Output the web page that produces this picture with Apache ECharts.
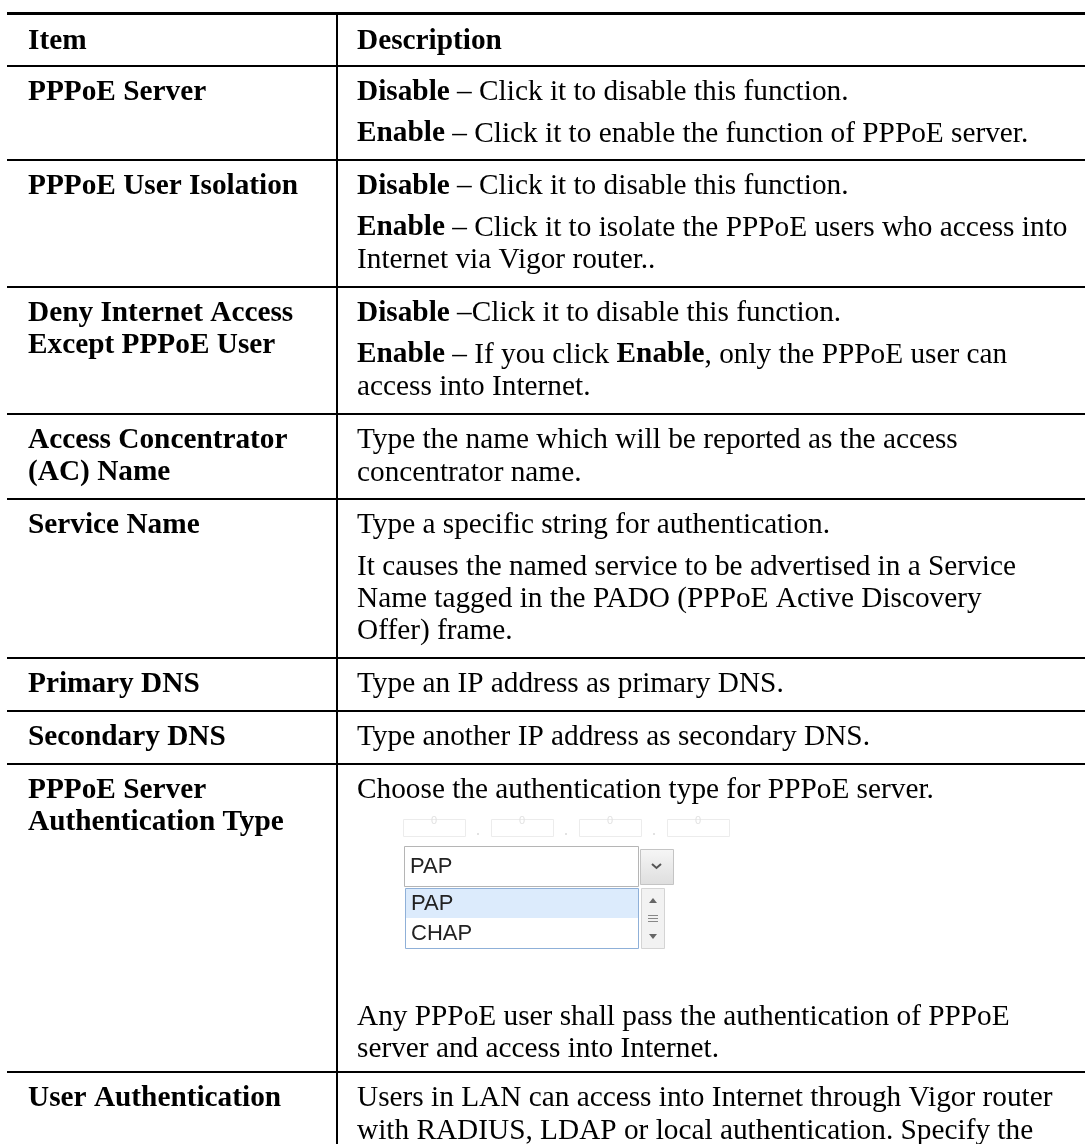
<!DOCTYPE html>
<html>
<head>
<meta charset="utf-8">
<script src="https://cdn.jsdelivr.net/npm/echarts@6/dist/echarts.min.js"></script>
<style>
html,body{margin:0;padding:0;background:#fff;}
#c{width:1085px;height:1144px;}
</style>
</head>
<body>
<div id="c"></div>
<script>
// ---------- DATA ----------
const headerLabels = ['Item', 'Description'];
const itemLabels = [
  ['PPPoE Server'],
  ['PPPoE User Isolation'],
  ['Deny Internet Access', 'Except PPPoE User'],
  ['Access Concentrator', '(AC) Name'],
  ['Service Name'],
  ['Primary DNS'],
  ['Secondary DNS'],
  ['PPPoE Server', 'Authentication Type'],
  ['User Authentication']
];
// paragraphs per row; each paragraph is a list of wrapped lines ({b|..} = bold)
const descriptions = [
  [['{b|Disable} – Click it to disable this function.'],
   ['{b|Enable} – Click it to enable the function of PPPoE server.']],
  [['{b|Disable} – Click it to disable this function.'],
   ['{b|Enable} – Click it to isolate the PPPoE users who access into', 'Internet via Vigor router..']],
  [['{b|Disable} –Click it to disable this function.'],
   ['{b|Enable} – If you click {b|Enable}, only the PPPoE user can', 'access into Internet.']],
  [['Type the name which will be reported as the access', 'concentrator name.']],
  [['Type a specific string for authentication.'],
   ['It causes the named service to be advertised in a Service', 'Name tagged in the PADO (PPPoE Active Discovery', 'Offer) frame.']],
  [['Type an IP address as primary DNS.']],
  [['Type another IP address as secondary DNS.']],
  [['Choose the authentication type for PPPoE server.'],
   'WIDGET',
   ['Any PPPoE user shall pass the authentication of PPPoE', 'server and access into Internet.']],
  [['Users in LAN can access into Internet through Vigor router', 'with RADIUS, LDAP or local authentication. Specify the']]
];
const selectValue = 'PAP';
const selectOptions = ['PAP', 'CHAP'];
const ghostBoxCount = 4;

// ---------- LAYOUT ----------
const L = {
  left: 7, right: 1085, colX: 337,
  topRule: 13.5, headerBottom: 66,
  leftTextX: 28, rightTextX: 357,
  pad: 10.3, lineH: 32.4, paraGap: 9,
  widgetH: 176, lastPad: 6,
  font: '29.3px "Liberation Serif", "Times New Roman", serif',
  fontB: 'bold 29.3px "Liberation Serif", "Times New Roman", serif',
  uiFont: '22px "Liberation Sans", Arial, sans-serif'
};

const g = [];
function hline(y, w) {
  g.push({type: 'line', shape: {x1: L.left, y1: y, x2: L.right, y2: y},
          style: {stroke: '#000', lineWidth: w}});
}
function text(x, y, s, bold) {
  g.push({type: 'text', x: x, y: y, style: {
    text: s, font: bold ? L.fontB : L.font, fill: '#000',
    verticalAlign: 'middle', align: 'left',
    rich: {b: {font: L.fontB, fill: '#000'}}
  }});
}
function rect(x, y, w, h, fill, stroke, lw) {
  g.push({type: 'rect', shape: {x: x, y: y, width: w, height: h},
          style: {fill: fill || 'none', stroke: stroke || 'none', lineWidth: lw || 1}});
}

function drawWidget(wTop) {
  wTop = Math.round(wTop);
  // faint input boxes of the screenshot above the select
  const bx = [403, 491, 579, 667];
  for (let i = 0; i < ghostBoxCount; i++) {
    rect(bx[i] + 0.5, wTop + 3.5, 62, 17, '#fff', '#ececec', 1);
    g.push({type: 'text', x: bx[i] + 31, y: wTop + 5, style: {text: '0', font: '11px "Liberation Sans"', fill: '#e2e2e2', align: 'center', verticalAlign: 'middle'}});
    if (i < ghostBoxCount - 1) {
      g.push({type: 'circle', shape: {cx: bx[i] + 75, cy: wTop + 18, r: 1}, style: {fill: '#d8d8d8'}});
    }
  }
  // select box
  const sy = wTop + 30;
  rect(404.5, sy + 0.5, 234, 40, '#fff', '#b5b5b5', 1);
  g.push({type: 'text', x: 410, y: sy + 21, style: {text: selectValue, font: L.uiFont, fill: '#222', verticalAlign: 'middle'}});
  g.push({type: 'rect', shape: {x: 640.5, y: sy + 3.5, width: 33, height: 35},
    style: {fill: new echarts.graphic.LinearGradient(0, 0, 0, 1, [{offset: 0, color: '#f6f6f6'}, {offset: 1, color: '#dedede'}]),
            stroke: '#c4c4c4', lineWidth: 1}});
  g.push({type: 'polyline', shape: {points: [[652, sy + 18], [656.5, sy + 22], [661, sy + 18]]},
    style: {stroke: '#555', lineWidth: 2, fill: 'none'}});
  // dropdown list
  const ly = sy + 42;
  rect(405.5, ly + 0.5, 233, 60, '#fff', '#8fb0d8', 1);
  rect(406, ly + 1, 232, 29, '#dcebfc', null);
  selectOptions.forEach(function (o, i) {
    g.push({type: 'text', x: 411, y: ly + 16 + i * 30, style: {text: o, font: L.uiFont, fill: '#222', verticalAlign: 'middle'}});
  });
  // scrollbar
  rect(641.5, ly + 0.5, 23, 60, '#f2f2f2', '#d4d4d4', 1);
  g.push({type: 'polygon', shape: {points: [[649, ly + 15], [653, ly + 10], [657, ly + 15]]}, style: {fill: '#666'}});
  g.push({type: 'polygon', shape: {points: [[649, ly + 46], [653, ly + 51], [657, ly + 46]]}, style: {fill: '#666'}});
  [27, 30, 33].forEach(function (d) {
    g.push({type: 'line', shape: {x1: 648, y1: ly + d + 0.5, x2: 658, y2: ly + d + 0.5}, style: {stroke: '#888', lineWidth: 1}});
  });
}

// header
hline(L.topRule, 3);
hline(L.headerBottom, 2);
const hy = 13 + 1.5 + L.pad + L.lineH / 2;
text(L.leftTextX, hy, headerLabels[0], true);
text(L.rightTextX, hy, headerLabels[1], true);

// rows: heights follow from line and paragraph counts
let rowTop = L.headerBottom;
itemLabels.forEach(function (lines, r) {
  const c0 = rowTop + L.pad + L.lineH / 2;
  lines.forEach(function (s, i) { text(L.leftTextX, c0 + i * L.lineH, s, true); });
  let y = c0;
  let hasWidget = false;
  descriptions[r].forEach(function (para, p) {
    if (p > 0) y += L.paraGap;
    if (para === 'WIDGET') {
      hasWidget = true;
      drawWidget(y - L.lineH / 2);
      y += L.widgetH;
      return;
    }
    para.forEach(function (s) { text(L.rightTextX, y, s, false); y += L.lineH; });
  });
  const padB = hasWidget ? L.lastPad : L.pad;
  const bottom = Math.round(Math.max(y, c0 + lines.length * L.lineH) - L.lineH / 2 + padB);
  if (r < itemLabels.length - 1) hline(bottom, 2);
  rowTop = bottom;
});
g.push({type: 'line', shape: {x1: L.colX, y1: 12, x2: L.colX, y2: 1144},
        style: {stroke: '#000', lineWidth: 2}});

const chart = echarts.init(document.getElementById('c'), null, {renderer: 'canvas'});
chart.setOption({backgroundColor: '#fff', animation: false, graphic: {elements: g}});
</script>
</body>
</html>
